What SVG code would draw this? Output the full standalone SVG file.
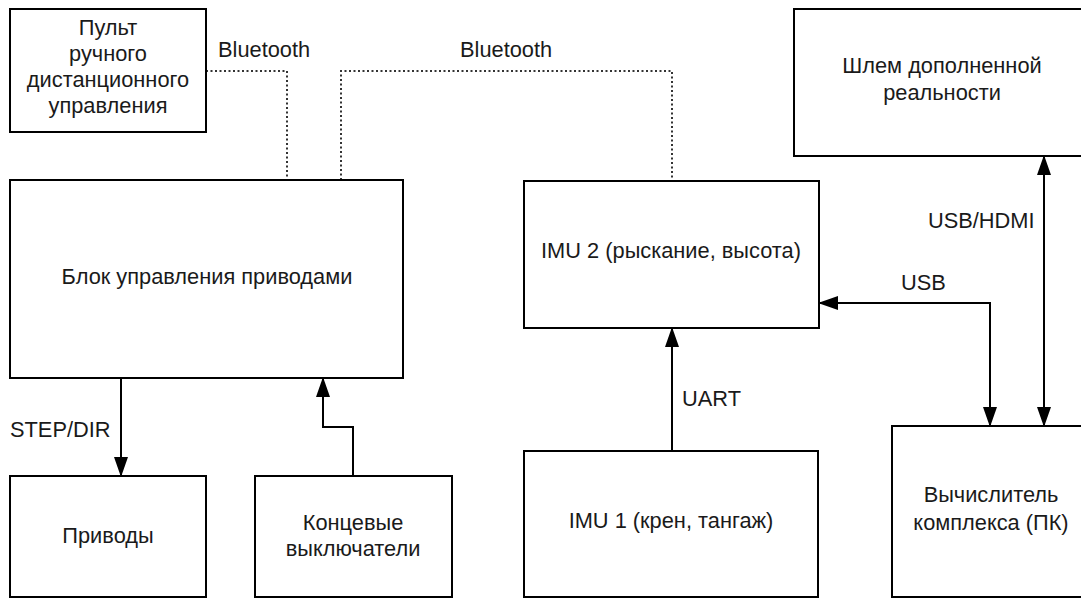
<svg xmlns="http://www.w3.org/2000/svg" width="1081" height="599" viewBox="0 0 1081 599">
<style>
.box{fill:#fff;stroke:#000;stroke-width:2}
.t{font-family:"Liberation Sans",Arial,sans-serif;font-size:21.8px;fill:#1a1a1a;text-anchor:middle}
.l{font-family:"Liberation Sans",Arial,sans-serif;font-size:21.8px;fill:#1a1a1a}
.c{fill:none;stroke:#000;stroke-width:2}
.d{fill:none;stroke:#333;stroke-width:2;stroke-dasharray:2 2.5}
</style>
<defs>
<marker id="ah" markerUnits="userSpaceOnUse" markerWidth="20" markerHeight="14" refX="19" refY="7" orient="auto-start-reverse" viewBox="0 0 20 14">
<path d="M0,0 L20,7 L0,14 z" fill="#000"/>
</marker>
</defs>
<rect width="1081" height="599" fill="#fff"/>
<g id="connectors">
<path class="d" d="M206,71 H287 V180"/>
<path class="d" d="M341,180 V71 H672 V181"/>
<path class="c" d="M121,378 V476" marker-end="url(#ah)"/>
<path class="c" d="M353,476 V427 H323 V378" marker-end="url(#ah)"/>
<path class="c" d="M672,451 V328" marker-end="url(#ah)"/>
<path class="c" d="M819,303 H990 V426" marker-start="url(#ah)" marker-end="url(#ah)"/>
<path class="c" d="M1044,156 V426" marker-start="url(#ah)" marker-end="url(#ah)"/>
<text class="l" x="218" y="57">Bluetooth</text>
<text class="l" x="460" y="57">Bluetooth</text>
<text class="l" x="928" y="228">USB/HDMI</text>
<text class="l" x="901" y="290">USB</text>
<text class="l" x="682" y="406">UART</text>
<text class="l" x="10" y="437">STEP/DIR</text>
</g>
<g id="pult">
<rect class="box" x="10" y="9" width="196" height="123"/>
<text class="t" x="108" y="35">Пульт</text>
<text class="t" x="108" y="61">ручного</text>
<text class="t" x="108" y="87">дистанционного</text>
<text class="t" x="108" y="113">управления</text>
</g>
<g id="block">
<rect class="box" x="10" y="180" width="393" height="198"/>
<text class="t" x="207" y="284">Блок управления приводами</text>
</g>
<g id="imu2">
<rect class="box" x="524" y="181" width="295" height="147"/>
<text class="t" x="671" y="258">IMU 2 (рыскание, высота)</text>
</g>
<g id="helmet">
<rect class="box" x="794" y="9" width="300" height="147"/>
<text class="t" x="942" y="73">Шлем дополненной</text>
<text class="t" x="942" y="100">реальности</text>
</g>
<g id="privody">
<rect class="box" x="10" y="476" width="196" height="121"/>
<text class="t" x="108" y="543">Приводы</text>
</g>
<g id="koncevye">
<rect class="box" x="255" y="476" width="197" height="121"/>
<text class="t" x="353" y="530">Концевые</text>
<text class="t" x="353" y="556">выключатели</text>
</g>
<g id="imu1">
<rect class="box" x="524" y="451" width="294" height="146"/>
<text class="t" x="671" y="528">IMU 1 (крен, тангаж)</text>
</g>
<g id="pc">
<rect class="box" x="892" y="426" width="200" height="171"/>
<text class="t" x="991" y="502">Вычислитель</text>
<text class="t" x="991" y="530">комплекса (ПК)</text>
</g>
</svg>
